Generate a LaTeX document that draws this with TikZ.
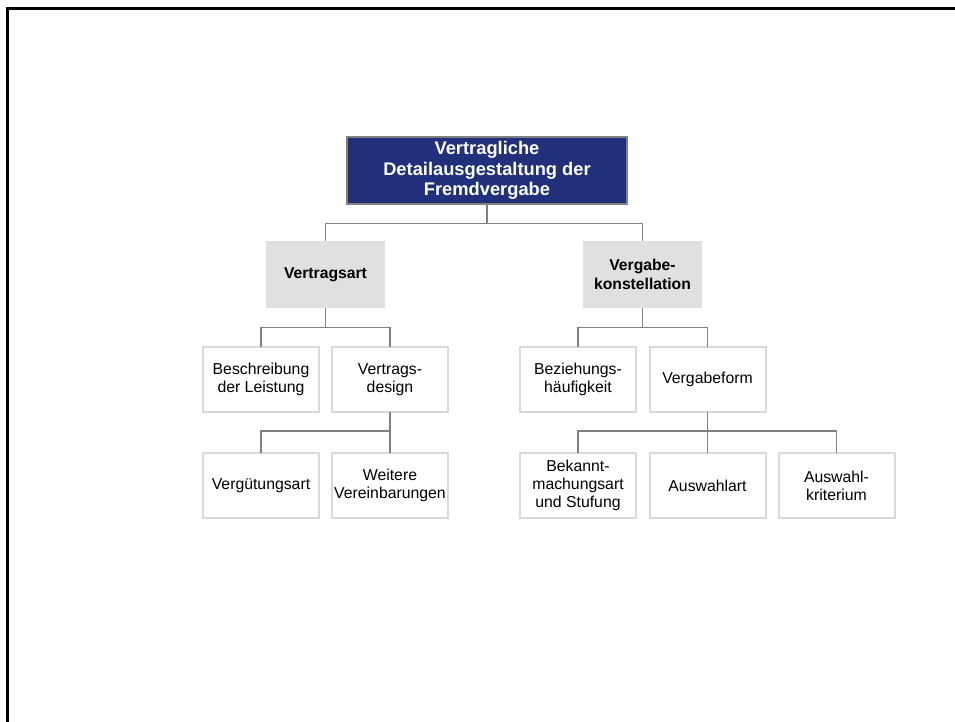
\documentclass[tikz,border=0pt]{standalone}
\usepackage{fontspec}
\setmainfont{Liberation Sans}
\definecolor{navy}{RGB}{34,47,122}
\definecolor{lgray}{RGB}{224,224,224}
\definecolor{bgray}{RGB}{217,217,217}
\definecolor{cgray}{RGB}{128,128,128}
\begin{document}
\begin{tikzpicture}[x=1pt,y=-1pt,
  titlebox/.style={draw=cgray,line width=1.5pt,fill=navy,text=white,font=\fontsize{18.3}{20.8}\selectfont\bfseries,align=center,minimum width=280pt,minimum height=67pt,inner sep=0pt},
  graybox/.style={fill=lgray,font=\fontsize{15.7}{18.3}\selectfont\bfseries,align=center,minimum width=119pt,minimum height=67pt,inner sep=0pt},
  whitebox/.style={draw=bgray,line width=2pt,fill=white,font=\fontsize{15.8}{18.3}\selectfont,align=center,minimum width=116pt,minimum height=65pt,inner sep=0pt,outer sep=0pt},
  conn/.style={draw=cgray,line width=1.2pt}]
\useasboundingbox (0,0) rectangle (955,722);
\draw[line width=2.5pt] (7.5,722) -- (7.5,8.5) -- (955,8.5);

\node[titlebox] (top) at (487,170.5) {Vertragliche\\Detailausgestaltung der\\Fremdvergabe};
\node[graybox] (va) at (325.5,274.5) {Vertragsart};
\node[graybox] (vk) at (642.5,274.5) {Vergabe-\\konstellation};

\node[whitebox] (bes) at (261,379.5) {Beschreibung\\der Leistung};
\node[whitebox] (vd) at (390,379.5) {Vertrags-\\design};
\node[whitebox] (verg) at (261,485.5) {Vergütungsart};
\node[whitebox] (wv) at (390,485.5) {Weitere\\Vereinbarungen};

\node[whitebox] (bez) at (578,379.5) {Beziehungs-\\häufigkeit};
\node[whitebox] (vf) at (707.5,379.5) {Vergabeform};
\node[whitebox] (bek) at (578,485.5) {Bekannt-\\machungsart\\und Stufung};
\node[whitebox] (aa) at (707.5,485.5) {Auswahlart};
\node[whitebox] (ak) at (836.5,485.5) {Auswahl-\\kriterium};

\draw[conn] (top.south) -- ++(0,18.5) -| (va.north);
\draw[conn] (top.south) -- ++(0,18.5) -| (vk.north);
\draw[conn] (va.south) -- ++(0,19) -| (bes.north);
\draw[conn] (va.south) -- ++(0,19) -| (vd.north);
\draw[conn] (vd.south) -- ++(0,19) -| (verg.north);
\draw[conn] (vd.south) -- (wv.north);
\draw[conn] (vk.south) -- ++(0,19) -| (bez.north);
\draw[conn] (vk.south) -- ++(0,19) -| (vf.north);
\draw[conn] (vf.south) -- ++(0,19) -| (bek.north);
\draw[conn] (vf.south) -- ++(0,19) -| (ak.north);
\draw[conn] (vf.south) -- (aa.north);
\end{tikzpicture}
\end{document}
